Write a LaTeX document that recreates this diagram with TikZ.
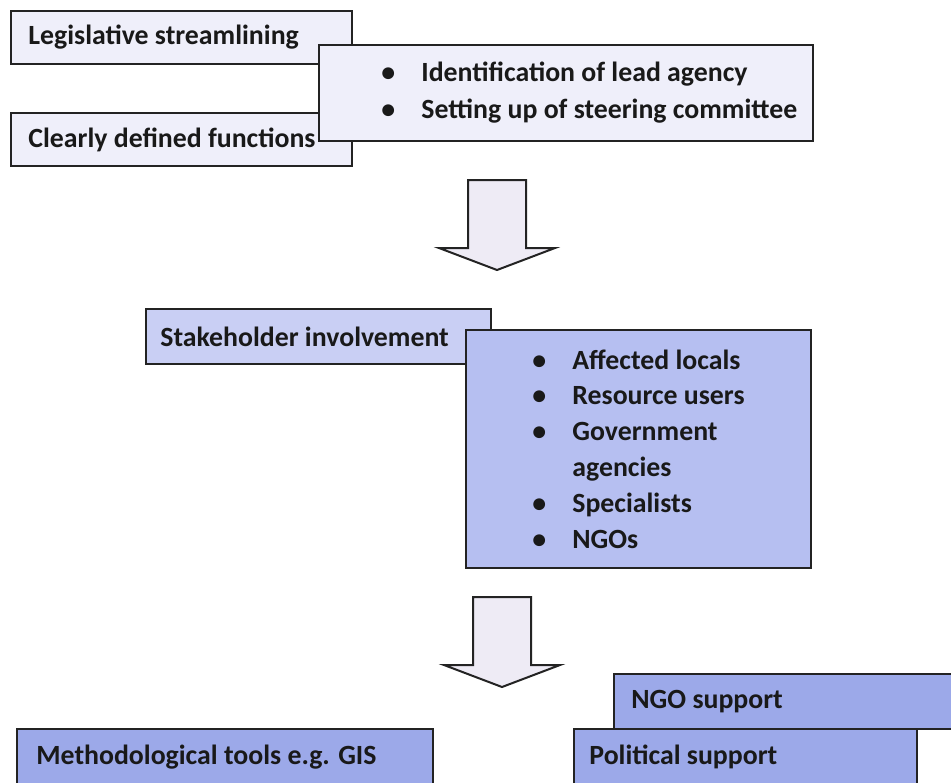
\documentclass[tikz,border=0pt]{standalone}
\usepackage{fontspec}
\setmainfont{Carlito}
\usetikzlibrary{positioning}
\definecolor{boxline}{RGB}{35,35,35}
\definecolor{inkblack}{RGB}{25,25,25}
\definecolor{lavlight}{RGB}{239,239,250}
\definecolor{stakeblue}{RGB}{201,207,244}
\definecolor{listblue}{RGB}{182,191,241}
\definecolor{supportblue}{RGB}{156,169,233}
\definecolor{arrowfill}{RGB}{238,235,245}
\newcommand{\itm}{\makebox[20pt][l]{\textbullet}}
\tikzset{
    box/.style={rectangle, draw=boxline, line width=1pt, anchor=north west, inner sep=0pt},
    topbox/.style={box, fill=lavlight},
    stakebox/.style={box, fill=stakeblue},
    listbox/.style={box, fill=listblue},
    supportbox/.style={box, fill=supportblue},
    boxtext/.style={inner sep=0pt, anchor=west, align=left, text=inkblack, font=\bfseries\fontsize{13.9}{18.5}\selectfont},
    listtext/.style={boxtext, font=\bfseries\fontsize{13.9}{17.9}\selectfont},
    blockarr/.style={draw=boxline, line width=1pt, fill=arrowfill, line join=miter}
}
\begin{document}
\begin{tikzpicture}[x=0.5pt, y=-0.5pt]
\useasboundingbox (0,0) rectangle (951,782);
\clip (0,0) rectangle (951,782);
% institutional set-up
\node[topbox, minimum width=170.5pt, minimum height=26.5pt] (legis) at (10,10) {};
\node[boxtext, right=9pt of legis.west] (legislbl) {Legislative streamlining};
\node[topbox, minimum width=170.5pt, minimum height=26.5pt] (funcs) at (10,112) {};
\node[boxtext, right=9pt of funcs.west] (funcslbl) {Clearly defined functions};
\node[topbox, minimum width=247pt, minimum height=48pt] (lead) at (318,44) {};
\node[boxtext, right=31.5pt of lead.west] (leadlbl) {\itm Identification of lead agency\\ \itm Setting up of steering committee};
% first arrow
\coordinate (arrtop) at (497,180);
\draw[blockarr] (arrtop) -- ++(29,0) -- ++(0,68) -- ++(29,0) -- ++(-58,22) -- ++(-58,-22) -- ++(29,0) -- ++(0,-68) -- cycle;
% stakeholders
\node[stakebox, minimum width=172.5pt, minimum height=27.5pt] (stake) at (145,308) {};
\node[boxtext, right=7.5pt of stake.west] (stakelbl) {Stakeholder involvement};
\node[listbox, minimum width=172.5pt, minimum height=119pt] (groups) at (465,329) {};
\node[listtext, right=33.5pt of groups.west] (groupslbl) {\itm Affected locals\\ \itm Resource users\\ \itm Government\\ \hspace*{20pt}agencies\\ \itm Specialists\\ \itm NGOs};
% second arrow
\coordinate (arrmid) at (502,597);
\draw[blockarr] (arrmid) -- ++(29,0) -- ++(0,68) -- ++(29,0) -- ++(-58,22) -- ++(-58,-22) -- ++(29,0) -- ++(0,-68) -- cycle;
% support
\node[supportbox, minimum width=208pt, minimum height=28pt] (tools) at (16,728) {};
\node[boxtext, right=10pt of tools.west] (toolslbl) {Methodological tools e.g. GIS};
\node[supportbox, minimum width=172.5pt, minimum height=27.5pt] (ngo) at (613,673) {};
\node[boxtext, right=9pt of ngo.west] (ngolbl) {NGO support};
\node[supportbox, minimum width=171.5pt, minimum height=28pt] (polit) at (573,728) {};
\node[boxtext, right=8pt of polit.west] (politlbl) {Political support};
\end{tikzpicture}
\end{document}
